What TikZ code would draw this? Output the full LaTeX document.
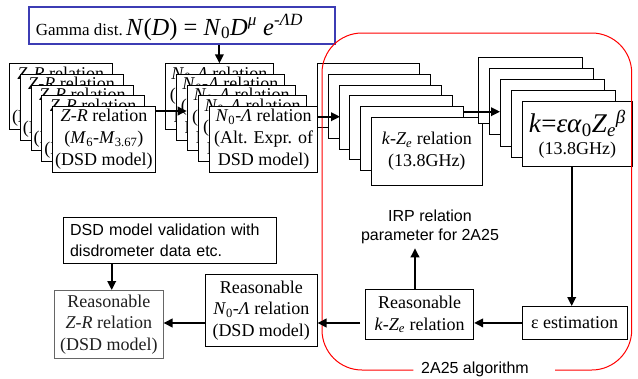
\documentclass[tikz,border=0pt]{standalone}
\usepackage{fontspec}
\setmainfont{Liberation Serif}
\newfontfamily\arialf{Liberation Sans}
\usetikzlibrary{arrows.meta}
\newcommand{\fsz}{\fontsize{18}{21.7}\selectfont}
\newcommand{\fsans}{\arialf\fontsize{16}{20.7}\selectfont}
\definecolor{gblue}{RGB}{60,60,180}
\begin{document}
\begin{tikzpicture}[x=1pt,y=-1pt,
 sbox/.style={draw=black,line width=0.8pt,fill=white,anchor=north west,inner sep=0pt,align=center,font=\fsz},
 arr/.style={line width=2pt,-{Triangle[length=9pt,width=8.5pt]}},
]
\useasboundingbox (0,0) rectangle (638,378);

% Gamma box
\node[draw=gblue,line width=1.5pt,anchor=north west,minimum width=306pt,minimum height=37pt,inner sep=0pt] (gamma) at (28,6) {};
\node[anchor=base west,inner sep=0pt] (gtxt) at (35.7,35) {{\fontsize{17}{20}\selectfont Gamma dist.} {\fontsize{24.5}{26}\selectfont\textit{N}(\textit{D}) = \textit{N}\textsubscript{0}\textit{D}\textsuperscript{\textit{μ}} \textit{e}\textsuperscript{-\textit{ΛD}}}};

% Stack 1
\foreach \i in {0,...,4}
 \node[sbox,minimum width=102.7pt,minimum height=65.6pt] (s1b\i) at ({9+10.8*\i},{63.3+10.7*\i}) {\textit{Z}-\textit{R} relation\\(\textit{M}\textsubscript{6}-\textit{M}\textsubscript{3.67})\\(DSD model)};

% Stack 2
\foreach \i in {0,...,4}
 \node[sbox,minimum width=108pt,minimum height=65.6pt] (s2b\i) at ({165+11.05*\i},{63.3+10.7*\i}) {\textit{N}\textsubscript{0}-\textit{Λ} relation\\(Alt. Expr. of\\DSD model)};

% Stack 3
\foreach \i in {0,...,4}
 \node[sbox,minimum width=102.6pt,minimum height=64pt] (s3b\i) at ({316.7+10.9*\i},{63.3+10.7*\i}) {};
\node[sbox,minimum width=110.7pt,minimum height=68pt] (s3f) at (371,116.7) {\textit{k}-\textit{Z}\textsubscript{\textit{e}} relation\\(13.8GHz)};

% Stack 4
\foreach \i in {0,...,3}
 \node[sbox,minimum width=103.4pt,minimum height=66.6pt] (s4b\i) at ({478.3+11*\i},{56.7+11.1*\i}) {};
\node[sbox,minimum width=109.4pt,minimum height=65pt] (s4f) at (522.3,101) {{\fontsize{27}{24}\selectfont\textit{k}=\textit{εα}\textsubscript{0}\textit{Z}\textsubscript{\textit{e}}\textsuperscript{\textit{β}}}\\(13.8GHz)};

% Lower boxes
\node[sbox,minimum width=213pt,minimum height=45.4pt,align=left,text width=199pt,inner xsep=7pt,font=\fsans] (val) at (62.7,217.3) {DSD model validation with\\disdrometer data etc.};
\node[sbox,draw=black!60,text=black!88,minimum width=108.4pt,minimum height=68pt] (zr) at (54.3,290) {Reasonable\\\textit{Z}-\textit{R} relation\\(DSD model)};
\node[sbox,minimum width=111.7pt,minimum height=71.7pt] (n0l) at (205,274.3) {Reasonable\\\textit{N}\textsubscript{0}-\textit{Λ} relation\\(DSD model)};
\node[sbox,minimum width=108.3pt,minimum height=49.7pt] (kze) at (365,289.3) {Reasonable\\\textit{k}-\textit{Z}\textsubscript{\textit{e}} relation};
\node[sbox,minimum width=105pt,minimum height=33pt] (eps) at (521.7,306) {ε estimation};

\node[align=center,inner sep=0pt,font=\arialf\fontsize{16}{19.3}\selectfont] (irp) at (430,227) {IRP relation\\parameter for 2A25};

% Red algorithm frame
\draw[red,line width=1pt,rounded corners=40pt] (413.3,370) -- (322,370) -- (322,33) -- (631.7,33) -- (631.7,370) -- (555,370);
\node[font=\fsans,anchor=base,inner sep=0pt] (alg) at (475,373) {2A25 algorithm};

% Arrows
\coordinate (c12) at (186.7,111);
\draw[arr] (s1b4.east |- c12) -- (c12);
\coordinate (c23) at (340,116.7);
\draw[arr] (s2b4.east |- c23) -- (c23);
\coordinate (c34) at (500,111.7);
\draw[arr] (s3b4.east |- c34) -- (c34);
\draw[arr] (gamma.south -| s2b0.north) -- (s2b0.north);
\coordinate (x4) at (571.7,0);
\draw[arr] (s4f.south -| x4) -- (eps.north -| x4);
\draw[arr] (eps.west) -- (eps.west -| kze.east);
\coordinate (x5) at (415,248.3);
\draw[arr] (kze.north -| x5) -- (x5);
\coordinate (yA) at (0,323);
\coordinate (kzt) at (360,323);
\draw[arr] (kzt) -- (n0l.east |- yA);
\draw[arr] (n0l.west |- yA) -- (zr.east |- yA);
\coordinate (x6) at (111.7,0);
\draw[arr] (val.south -| x6) -- (zr.north -| x6);
\end{tikzpicture}
\end{document}
